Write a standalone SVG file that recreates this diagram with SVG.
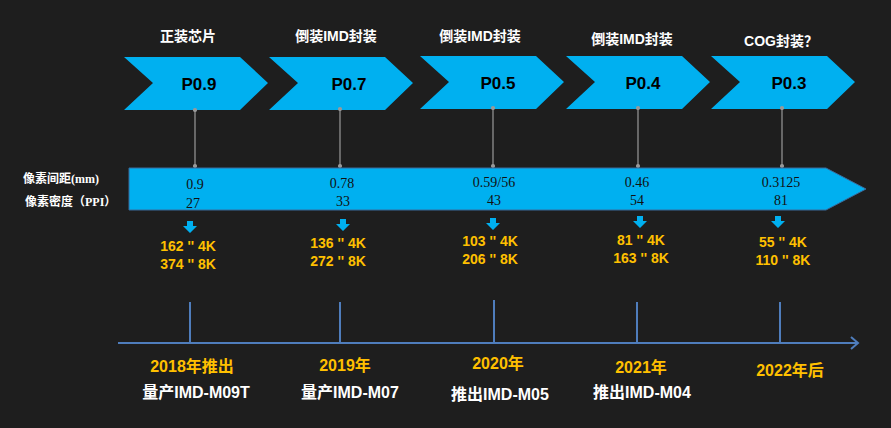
<svg xmlns="http://www.w3.org/2000/svg" width="891" height="428" viewBox="0 0 891 428">
<style>
.chev{fill:#00b0f0}
.pl{font:bold 17px "Liberation Sans",Arial,sans-serif;fill:#000;text-anchor:middle}
.hd{font:bold 14px "Liberation Sans","Noto Sans CJK SC",sans-serif;fill:#fff;text-anchor:middle}
.num{font:14px "Liberation Serif",serif;fill:#111;text-anchor:middle}
.res{font:bold 14px "Liberation Sans",sans-serif;fill:#ffc000;text-anchor:middle}
.yr{font:bold 16px "Liberation Sans","Noto Sans CJK SC",sans-serif;fill:#ffc000;text-anchor:middle}
.md{font:bold 16px "Liberation Sans","Noto Sans CJK SC",sans-serif;fill:#fff;text-anchor:middle}
.lbl{font:bold 12px "Liberation Serif","Noto Sans CJK SC",serif;fill:#fff}
.gl{stroke:#999;stroke-width:1.2}
.tl{stroke:#4f7dbc;stroke-width:2;fill:none}
</style>
<rect width="891" height="428" fill="#1e1e1e"/>
<g id="stages">
<g id="s1"><polygon class="chev" points="124,57 240,57 268,83 240,110 124,110 153,83"/><text class="pl" x="199" y="90">P0.9</text><text class="hd" x="188" y="41">正装芯片</text></g>
<g id="s2"><polygon class="chev" points="269,57 385,57 413,83 385,110 269,110 298,83"/><text class="pl" x="349" y="90">P0.7</text><text class="hd" x="336" y="41">倒装IMD封装</text></g>
<g id="s3"><polygon class="chev" points="420,56 536,56 564,82 536,109 420,109 449,82"/><text class="pl" x="498" y="89">P0.5</text><text class="hd" x="480" y="41">倒装IMD封装</text></g>
<g id="s4"><polygon class="chev" points="566,56 682,56 710,82 682,109 566,109 595,82"/><text class="pl" x="643" y="89">P0.4</text><text class="hd" x="632" y="44">倒装IMD封装</text></g>
<g id="s5"><polygon class="chev" points="711,56 827,56 855,82 827,109 711,109 740,82"/><text class="pl" x="789" y="89">P0.3</text><text class="hd" x="781" y="46">COG封装？</text></g>
</g>
<g id="connectors">
<g class="gl" fill="#999">
<line x1="195" y1="110" x2="195" y2="166"/><circle cx="195" cy="110" r="1.5"/><circle cx="195" cy="166" r="1.5"/>
<line x1="340" y1="109" x2="340" y2="166"/><circle cx="340" cy="109" r="1.5"/><circle cx="340" cy="166" r="1.5"/>
<line x1="493" y1="108" x2="493" y2="166"/><circle cx="493" cy="108" r="1.5"/><circle cx="493" cy="166" r="1.5"/>
<line x1="638" y1="108" x2="638" y2="166"/><circle cx="638" cy="108" r="1.5"/><circle cx="638" cy="166" r="1.5"/>
<line x1="782" y1="108" x2="782" y2="166"/><circle cx="782" cy="108" r="1.5"/><circle cx="782" cy="166" r="1.5"/>
</g>
<g fill="#00b0f0">
<polygon points="187,221 193,221 193,226 197,226 190,233 183,226 187,226"/>
<polygon points="340,219 346,219 346,224 350,224 343,231 336,224 340,224"/>
<polygon points="490,218 496,218 496,223 500,223 493,230 486,223 490,223"/>
<polygon points="637,216 643,216 643,221 647,221 640,228 633,221 637,221"/>
<polygon points="775,216 781,216 781,221 785,221 778,228 771,221 775,221"/>
</g>
<path class="tl" d="M118,343 H858 M851,337 L858,343 L851,349"/>
<path class="tl" d="M190,302 V343 M340,302 V343 M494,300 V343 M637,302 V343 M780,302 V343"/>
</g>
<g id="band">
<polygon points="129,168 826,168 866,189 826,210 129,210" fill="#00b0f0" stroke="#3a6a9a" stroke-width="1"/>
<text class="lbl" x="23" y="183">像素间距(mm)</text>
<text class="lbl" x="25" y="206">像素密度（PPI）</text>
<text class="num" x="195" y="189">0.9</text><text class="num" x="193" y="208">27</text>
<text class="num" x="342" y="188">0.78</text><text class="num" x="343" y="206">33</text>
<text class="num" x="494" y="187">0.59/56</text><text class="num" x="494" y="205">43</text>
<text class="num" x="637" y="187">0.46</text><text class="num" x="637" y="205">54</text>
<text class="num" x="781" y="187">0.3125</text><text class="num" x="781" y="205">81</text>
</g>
<g id="res">
<text class="res" x="188" y="251">162 '' 4K</text><text class="res" x="188" y="269">374 '' 8K</text>
<text class="res" x="338" y="248">136 '' 4K</text><text class="res" x="338" y="266">272 '' 8K</text>
<text class="res" x="490" y="246">103 '' 4K</text><text class="res" x="490" y="264">206 '' 8K</text>
<text class="res" x="641" y="245">81 '' 4K</text><text class="res" x="641" y="263">163 '' 8K</text>
<text class="res" x="783" y="247">55 '' 4K</text><text class="res" x="783" y="265">110 '' 8K</text>
</g>
<g id="years">
<text class="yr" x="192" y="372">2018年推出</text><text class="md" x="196" y="398">量产IMD-M09T</text>
<text class="yr" x="345" y="371">2019年</text><text class="md" x="350" y="398">量产IMD-M07</text>
<text class="yr" x="498" y="369">2020年</text><text class="md" x="500" y="400">推出IMD-M05</text>
<text class="yr" x="641" y="373">2021年</text><text class="md" x="642" y="398">推出IMD-M04</text>
<text class="yr" x="790" y="376">2022年后</text>
</g>
</svg>
